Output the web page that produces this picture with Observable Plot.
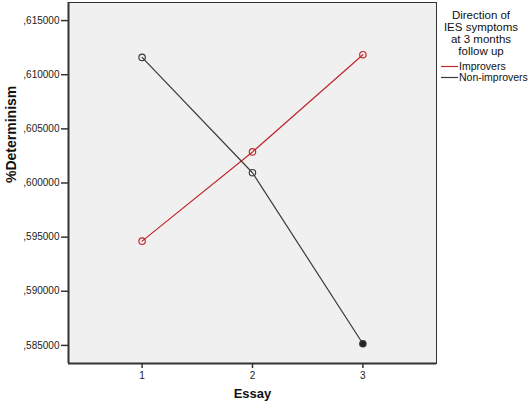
<!DOCTYPE html>
<html>
<head>
<meta charset="utf-8">
<script src="https://cdn.jsdelivr.net/npm/d3@7"></script>
<script src="https://cdn.jsdelivr.net/npm/@observablehq/plot@0.6"></script>
<style>
  html, body { margin: 0; padding: 0; background: #ffffff; }
  #chart svg { display: block; }
</style>
</head>
<body>
<div id="chart"></div>
<script>
// ---- data ----
const essays = [1, 2, 3];
const groups = ["Improvers", "Non-improvers"];
const improvers = [0.59463, 0.60287, 0.61185];
const nonImprovers = [0.61160, 0.60095, 0.58515];
const yTicks = [0.585, 0.590, 0.595, 0.600, 0.605, 0.610, 0.615];
const xDomain = [1/3, 11/3];
const yDomain = [0.58333, 0.61667];
const legendTitle = ["Direction of", "IES symptoms", "at 3 months", "follow up"];
const yLabel = "%Determinism";
const xLabel = "Essay";

const colors = ["#c0282d", "#3a3a3a"];

const data = essays.flatMap((e, i) => [
  {essay: e, group: groups[0], value: improvers[i]},
  {essay: e, group: groups[1], value: nonImprovers[i]}
]);

const yFmt = v => "," + d3.format(".6f")(v).split(".")[1];

const chart = Plot.plot({
  width: 529,
  height: 405,
  marginLeft: 68,
  marginRight: 93,
  marginTop: 2,
  marginBottom: 42,
  style: {fontFamily: "Arial, 'Liberation Sans', sans-serif", fontSize: "10px", color: "#222", background: "#ffffff"},
  x: {domain: xDomain, label: null},
  y: {domain: yDomain, label: null},
  color: {domain: groups, range: colors},
  marks: [
    Plot.frame({fill: "#f0f0f0", stroke: "#333", strokeWidth: 1}),
    Plot.ruleX([xDomain[0]], {stroke: "#333", strokeWidth: 2}),
    Plot.ruleY([yDomain[0]], {stroke: "#333", strokeWidth: 2}),
    Plot.axisX({ticks: essays, tickFormat: d => String(d), tickSize: 5, tickPadding: 3, label: null, fontSize: 10, stroke: "#333", strokeWidth: 1.5}),
    Plot.axisY({ticks: yTicks, tickFormat: yFmt, tickSize: 7, tickPadding: 2, label: null, fontSize: 10, stroke: "#333", strokeWidth: 1.5}),
    Plot.line(data, {x: "essay", y: "value", stroke: "group", z: "group", strokeWidth: 1.2}),
    Plot.dot(data, {x: "essay", y: "value", stroke: "group", r: 3.2, strokeWidth: 1.2,
      fill: d => (d.group === groups[1] && d.essay === essays[2]) ? "#222" : "none"}),
    Plot.text([yLabel], {frameAnchor: "left", dx: -57, rotate: -90, fontWeight: "bold", fontSize: 14, fill: "#111"}),
    Plot.text([xLabel], {frameAnchor: "bottom", dy: 34, fontWeight: "bold", fontSize: 13, fill: "#111"})
  ]
});

document.getElementById("chart").appendChild(chart);

// ---- legend (outside the plot frame) ----
const svg = d3.select(chart);
const lg = svg.append("g").attr("font-family", "Arial, 'Liberation Sans', sans-serif").attr("fill", "#111");
lg.selectAll("text.t").data(legendTitle).join("text")
  .attr("class", "t")
  .attr("x", 481)
  .attr("y", (d, i) => 19 + i * 12)
  .attr("text-anchor", "middle")
  .attr("font-size", 11.5)
  .text(d => d);
const items = lg.selectAll("g.item").data(groups).join("g")
  .attr("class", "item")
  .attr("transform", (d, i) => `translate(0, ${66.5 + i * 11})`);
items.append("line").attr("x1", 441).attr("x2", 458).attr("y1", 0).attr("y2", 0)
  .attr("stroke", (d, i) => colors[i]).attr("stroke-width", 1.2);
items.append("text").attr("x", 459).attr("y", 0).attr("dy", "0.35em")
  .attr("text-anchor", "start")
  .attr("font-size", 10.5).text(d => d);
</script>
</body>
</html>
